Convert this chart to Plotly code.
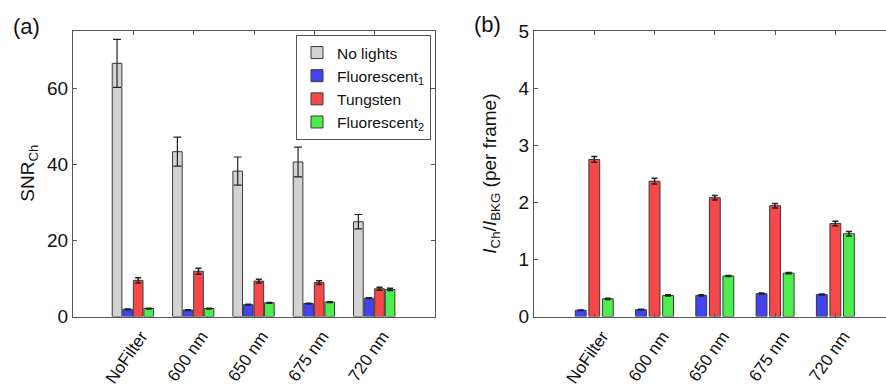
import plotly.graph_objects as go

# Filter conditions along the x axis
filters = ["NoFilter", "600 nm", "650 nm", "675 nm", "720 nm"]
positions = [1, 2, 3, 4, 5]

# (a) channel signal-to-noise ratio under each lighting condition
snr_no_lights = [66.5, 43.3, 38.2, 40.6, 24.9]
snr_no_lights_err = [6.3, 3.8, 3.7, 3.9, 1.9]
snr_fluor1 = [1.9, 1.7, 3.1, 3.4, 4.8]
snr_fluor1_err = [0.1, 0.1, 0.1, 0.1, 0.1]
snr_tungsten = [9.5, 11.9, 9.3, 8.9, 7.3]
snr_tungsten_err = [0.7, 0.8, 0.5, 0.5, 0.4]
snr_fluor2 = [2.1, 2.1, 3.6, 3.8, 7.1]
snr_fluor2_err = [0.1, 0.1, 0.1, 0.1, 0.3]

# (b) channel intensity relative to background, per frame
ratio_fluor1 = [0.11, 0.12, 0.37, 0.40, 0.385]
ratio_fluor1_err = [0.005, 0.005, 0.01, 0.01, 0.01]
ratio_tungsten = [2.75, 2.37, 2.08, 1.94, 1.63]
ratio_tungsten_err = [0.05, 0.05, 0.04, 0.04, 0.04]
ratio_fluor2 = [0.31, 0.37, 0.71, 0.76, 1.45]
ratio_fluor2_err = [0.01, 0.01, 0.01, 0.01, 0.04]

GRAY = "#d2d2d2"
BLUE = "#4343f2"
RED = "#f64848"
GREEN = "#4ded4d"
EDGE = "#3a3a3a"
AXIS = "#555555"
FONT = "Liberation Sans, Arial, sans-serif"

fig = go.Figure()


def add_bars(values, errors, name, color, xaxis, yaxis, offset, width,
             showlegend, cap, thick):
    fig.add_trace(go.Bar(
        x=positions, y=values, name=name,
        marker=dict(color=color, line=dict(color=EDGE, width=1)),
        error_y=dict(type="data", array=errors, visible=True,
                     color="#222222", thickness=thick, width=cap),
        offset=offset, width=width,
        xaxis=xaxis, yaxis=yaxis, showlegend=showlegend,
    ))


# Panel (a): four lighting conditions per filter
wa, pa = 0.16, 0.175
add_bars(snr_no_lights, snr_no_lights_err, "No lights", GRAY, "x", "y",
         -2 * pa, wa, True, 4, 1.2)
add_bars(snr_fluor1, snr_fluor1_err, "Fluorescent<sub>1</sub>", BLUE, "x", "y",
         -pa, wa, True, 3, 1.5)
add_bars(snr_tungsten, snr_tungsten_err, "Tungsten", RED, "x", "y",
         0.0, wa, True, 3, 1.5)
add_bars(snr_fluor2, snr_fluor2_err, "Fluorescent<sub>2</sub>", GREEN, "x", "y",
         pa, wa, True, 3, 1.5)

# Panel (b): three lit conditions per filter
wb, pb = 0.18, 0.225
add_bars(ratio_fluor1, ratio_fluor1_err, "Fluorescent<sub>1</sub>", BLUE, "x2", "y2",
         -pb - wb / 2, wb, False, 3, 1.5)
add_bars(ratio_tungsten, ratio_tungsten_err, "Tungsten", RED, "x2", "y2",
         -wb / 2, wb, False, 3, 1.5)
add_bars(ratio_fluor2, ratio_fluor2_err, "Fluorescent<sub>2</sub>", GREEN, "x2", "y2",
         pb - wb / 2, wb, False, 3, 1.5)

W, H = 886, 389


def py(px):
    """Paper y fraction for a distance in px from the top edge."""
    return (H - px) / H


ydom = [py(324), py(22.2)]

common_x = dict(
    tickmode="array", tickvals=positions, ticktext=filters, tickangle=-55,
    ticks="inside", ticklen=4, tickcolor=AXIS, showline=True, linecolor=AXIS,
    linewidth=1, showgrid=False, zeroline=False,
    ticklabelstandoff=2, ticklabelshift=8,
    tickfont=dict(family=FONT, size=17, color="#111111"),
)
common_y = dict(
    ticks="inside", ticklen=4, tickcolor=AXIS, showline=True, linecolor=AXIS,
    linewidth=1, showgrid=False, zeroline=False,
    tickfont=dict(family=FONT, size=19, color="#111111"),
)

fig.update_layout(
    width=W, height=H,
    margin=dict(l=0, r=0, t=0, b=0),
    paper_bgcolor="white", plot_bgcolor="white",
    barmode="overlay",
    font=dict(family=FONT, color="#111111"),
    xaxis=dict(domain=[73 / W, 435 / W], range=[0, 6], mirror="allticks",
               anchor="y", **common_x),
    yaxis=dict(domain=ydom, range=[0, 75], tickvals=[0, 20, 40, 60],
               mirror="allticks", anchor="x", **common_y),
    xaxis2=dict(domain=[534 / W, 1.0], range=[0, 5.84], mirror="allticks",
                anchor="y2", **common_x),
    yaxis2=dict(domain=ydom, range=[0, 5], dtick=1, mirror=False,
                anchor="x2", **common_y),
    legend=dict(
        x=431 / W, xanchor="right", y=py(26.4), yanchor="top",
        bgcolor="white", bordercolor=AXIS, borderwidth=1,
        font=dict(family=FONT, size=15.5, color="#111111"),
        itemwidth=30, tracegroupgap=0,
    ),
    annotations=[
        dict(text="(a)", x=26 / W, y=py(17), xref="paper", yref="paper",
             xanchor="center", yanchor="middle",
             showarrow=False, font=dict(size=22)),
        dict(text="(b)", x=487 / W, y=py(15), xref="paper", yref="paper",
             xanchor="center", yanchor="middle",
             showarrow=False, font=dict(size=22)),
        dict(text="SNR<sub>Ch</sub>", x=29 / W, y=py(173),
             xref="paper", yref="paper", xanchor="center", yanchor="middle",
             showarrow=False, textangle=-90, font=dict(size=19)),
        dict(text="<i>I</i><sub>Ch</sub>/<i>I</i><sub>BKG</sub> (per frame)",
             x=491 / W, y=py(173), xref="paper", yref="paper",
             xanchor="center", yanchor="middle",
             showarrow=False, textangle=-90, font=dict(size=19)),
    ],
)

fig.write_html("out.html")
